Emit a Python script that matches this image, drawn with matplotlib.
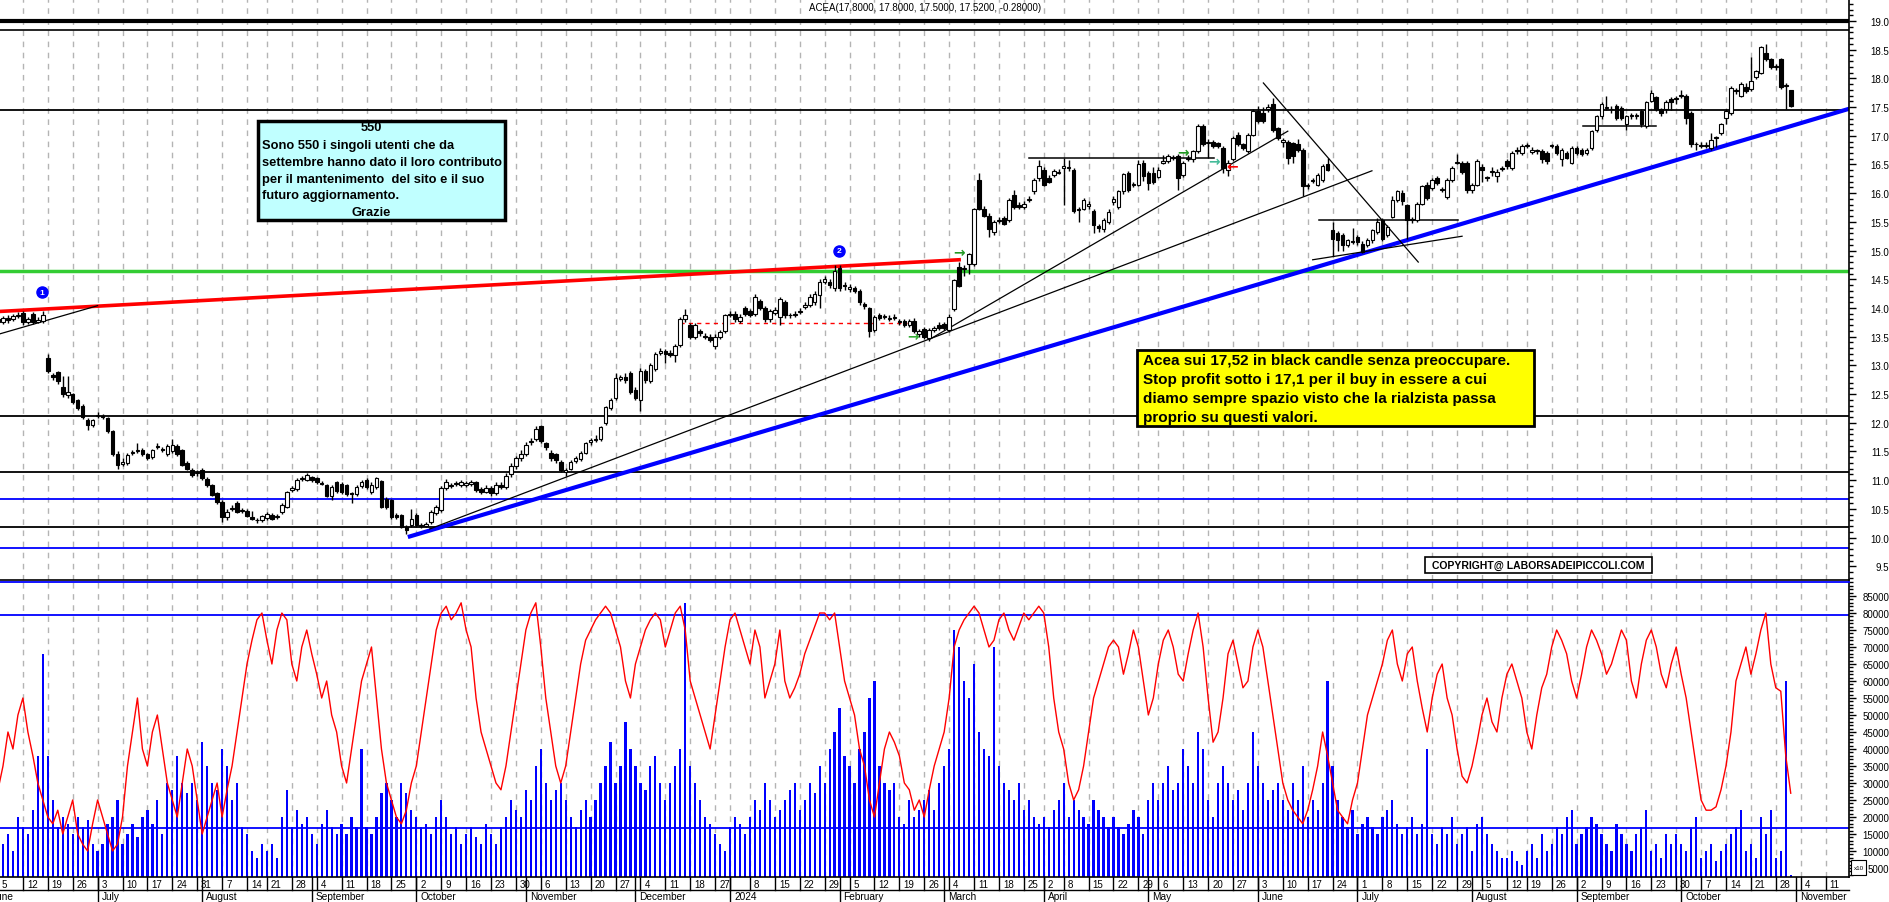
import matplotlib
matplotlib.use("Agg")
import matplotlib.pyplot as plt
import matplotlib.transforms as mtransforms
from matplotlib.patches import Rectangle
from matplotlib.ticker import MultipleLocator, FormatStrFormatter
import numpy as np
import pandas as pd

plt.rcParams['font.family'] = ['Liberation Sans', 'DejaVu Sans']

# calendario borsa (giorni di chiusura)
holidays = pd.to_datetime(['2023-08-15', '2023-12-25', '2023-12-26', '2024-01-01',
                           '2024-03-29', '2024-04-01', '2024-05-01', '2024-08-15'])
cal = pd.bdate_range('2023-06-01', '2024-11-15')
cal = cal[~cal.isin(holidays)]
start = cal.get_loc(pd.Timestamp('2023-06-05'))
pos = np.arange(len(cal)) - start

# ACEA daily OHLC, 5 giugno 2023 -> 31 ottobre 2024
opens = [13.80, 13.76, 13.82, 13.80, 13.86, 13.92, 13.76, 13.90, 13.76, 13.77,
         13.12, 12.84, 12.88, 12.62, 12.49, 12.50, 12.39, 12.30, 12.05, 11.96,
         12.12, 12.12, 12.08, 11.85, 11.46, 11.28, 11.30, 11.47, 11.50, 11.53,
         11.45, 11.40, 11.58, 11.53, 11.46, 11.50, 11.60, 11.52, 11.30, 11.18,
         11.12, 11.18, 11.02, 10.91, 10.78, 10.62, 10.36, 10.50, 10.60, 10.46,
         10.46, 10.35, 10.31, 10.31, 10.34, 10.40, 10.36, 10.44, 10.54, 10.83,
         10.84, 11.02, 11.01, 11.05, 11.03, 10.95, 10.91, 10.73, 10.97, 10.94,
         10.91, 10.78, 10.76, 10.90, 11.00, 10.79, 10.88, 10.98, 10.68, 10.65,
         10.40, 10.39, 10.19, 10.22, 10.40, 10.21, 10.21, 10.27, 10.42, 10.48,
         10.86, 10.91, 10.93, 10.92, 10.92, 10.93, 10.96, 10.84, 10.80, 10.86,
         10.78, 10.92, 10.88, 11.10, 11.25, 11.38, 11.46, 11.66, 11.72, 11.94,
         11.64, 11.48, 11.45, 11.32, 11.15, 11.20, 11.33, 11.37, 11.48, 11.66,
         11.70, 11.72, 12.00, 12.26, 12.44, 12.77, 12.80, 12.86, 12.57, 12.40,
         12.90, 12.73, 12.94, 13.22, 13.25, 13.22, 13.18, 13.36, 13.80, 13.70,
         13.50, 13.60, 13.52, 13.50, 13.33, 13.50, 13.60, 13.88, 13.90, 13.78,
         14.00, 13.95, 13.90, 14.12, 14.00, 13.80, 13.92, 13.85, 14.10, 13.87,
         13.88, 13.93, 14.02, 14.05, 14.10, 14.23, 14.45, 14.45, 14.35, 14.70,
         14.40, 14.33, 14.35, 14.30, 14.07, 14.00, 13.62, 13.88, 13.85, 13.80,
         13.83, 13.77, 13.77, 13.70, 13.78, 13.55, 13.63, 13.48, 13.62, 13.70,
         13.72, 13.62, 13.98, 14.71, 14.68, 14.77, 14.77, 16.23, 15.73, 15.61,
         15.32, 15.52, 15.56, 15.53, 15.97, 15.79, 15.76, 15.88, 16.03, 16.26,
         16.41, 16.27, 16.32, 16.36, 16.44, 16.44, 16.41, 15.72, 15.73, 15.78,
         15.69, 15.42, 15.37, 15.50, 15.84, 15.76, 16.03, 16.35, 16.14, 16.15,
         16.53, 16.35, 16.35, 16.29, 16.53, 16.56, 16.62, 16.65, 16.32, 16.60,
         16.59, 16.73, 17.17, 16.88, 16.90, 16.87, 16.79, 16.41, 16.59, 17.02,
         16.85, 16.73, 17.02, 17.43, 17.40, 17.46, 17.55, 17.13, 16.90, 16.90,
         16.87, 16.85, 16.76, 16.12, 16.21, 16.15, 16.23, 16.50, 15.35, 15.30,
         15.27, 15.10, 15.16, 15.24, 15.12, 15.10, 15.18, 15.32, 15.53, 15.27,
         15.59, 15.88, 16.00, 15.79, 15.53, 15.53, 15.82, 16.15, 16.09, 16.26,
         16.06, 15.94, 16.23, 16.53, 16.53, 16.53, 16.06, 16.15, 16.45, 16.28,
         16.37, 16.30, 16.43, 16.56, 16.44, 16.73, 16.70, 16.82, 16.72, 16.73,
         16.74, 16.70, 16.82, 16.82, 16.59, 16.70, 16.53, 16.79, 16.76, 16.70,
         16.79, 17.10, 17.34, 17.49, 17.46, 17.52, 17.49, 17.20, 17.34, 17.34,
         17.43, 17.17, 17.61, 17.67, 17.46, 17.46, 17.64, 17.64, 17.70, 17.70,
         17.40, 16.86, 16.84, 16.82, 16.79, 16.96, 17.05, 17.31, 17.40, 17.78,
         17.70, 17.85, 17.81, 18.02, 18.10, 18.45, 18.33, 18.20, 18.33, 17.87,
         17.80]
highs = [13.84, 13.86, 13.88, 13.90, 13.93, 13.95, 13.84, 13.93, 13.85, 13.95,
         13.20, 12.86, 12.90, 12.82, 12.82, 12.52, 12.42, 12.32, 12.08, 12.07,
         12.18, 12.15, 12.10, 11.87, 11.50, 11.38, 11.47, 11.53, 11.64, 11.56,
         11.48, 11.55, 11.64, 11.58, 11.63, 11.72, 11.63, 11.55, 11.33, 11.21,
         11.18, 11.21, 11.05, 10.94, 10.80, 10.65, 10.50, 10.56, 10.63, 10.52,
         10.49, 10.47, 10.34, 10.40, 10.44, 10.43, 10.41, 10.60, 10.82, 10.90,
         11.04, 11.07, 11.13, 11.08, 11.06, 10.98, 10.93, 10.91, 10.99, 10.97,
         10.93, 10.80, 10.91, 11.00, 11.03, 10.97, 11.06, 11.00, 10.70, 10.67,
         10.43, 10.41, 10.22, 10.50, 10.43, 10.25, 10.28, 10.48, 10.57, 10.89,
         11.02, 10.95, 10.99, 11.01, 10.99, 11.00, 10.99, 10.88, 10.92, 10.90,
         10.96, 10.97, 11.12, 11.30, 11.42, 11.52, 11.66, 11.74, 11.94, 11.97,
         11.67, 11.52, 11.48, 11.36, 11.22, 11.36, 11.42, 11.51, 11.67, 11.74,
         11.78, 11.95, 12.30, 12.44, 12.86, 12.84, 12.86, 12.90, 12.62, 12.96,
         12.94, 13.04, 13.24, 13.30, 13.28, 13.26, 13.37, 13.84, 13.98, 13.74,
         13.74, 13.63, 13.56, 13.54, 13.54, 13.62, 13.90, 13.95, 13.94, 13.90,
         14.04, 13.98, 14.24, 14.16, 14.04, 13.99, 14.02, 14.19, 14.14, 13.92,
         13.95, 14.00, 14.10, 14.24, 14.30, 14.50, 14.55, 14.50, 14.75, 14.75,
         14.45, 14.42, 14.38, 14.33, 14.10, 14.02, 13.88, 13.92, 13.90, 13.88,
         13.90, 13.80, 13.80, 13.80, 13.82, 13.64, 13.66, 13.65, 13.69, 13.75,
         13.76, 13.90, 14.50, 14.80, 14.75, 14.96, 15.75, 16.35, 15.78, 15.65,
         15.54, 15.58, 15.60, 15.92, 16.05, 15.84, 15.86, 15.95, 16.26, 16.58,
         16.46, 16.32, 16.43, 16.42, 16.62, 16.58, 16.44, 15.76, 15.92, 15.87,
         15.72, 15.46, 15.56, 15.72, 15.95, 16.06, 16.36, 16.38, 16.20, 16.58,
         16.58, 16.38, 16.45, 16.45, 16.66, 16.68, 16.66, 16.69, 16.56, 16.66,
         16.76, 17.20, 17.20, 16.95, 16.93, 16.90, 16.82, 16.58, 17.00, 17.06,
         16.88, 17.05, 17.46, 17.52, 17.50, 17.55, 17.65, 17.16, 16.97, 16.93,
         16.90, 16.95, 16.79, 16.17, 16.26, 16.35, 16.50, 16.62, 15.50, 15.34,
         15.30, 15.21, 15.40, 15.27, 15.16, 15.22, 15.38, 15.56, 15.56, 15.44,
         15.95, 16.06, 16.05, 15.82, 15.58, 15.85, 16.15, 16.19, 16.26, 16.30,
         16.10, 16.26, 16.47, 16.68, 16.56, 16.56, 16.18, 16.60, 16.50, 16.30,
         16.45, 16.42, 16.48, 16.60, 16.73, 16.80, 16.85, 16.88, 16.80, 16.77,
         16.77, 16.73, 16.86, 16.85, 16.79, 16.73, 16.82, 16.82, 16.79, 16.79,
         17.10, 17.36, 17.58, 17.70, 17.52, 17.55, 17.52, 17.37, 17.40, 17.40,
         17.46, 17.60, 17.80, 17.70, 17.49, 17.62, 17.67, 17.70, 17.79, 17.73,
         17.43, 16.90, 16.90, 16.90, 17.05, 17.00, 17.23, 17.46, 17.86, 17.84,
         17.93, 17.92, 18.38, 18.15, 18.57, 18.60, 18.36, 18.25, 18.36, 17.92,
         17.80]
lows = [13.70, 13.72, 13.74, 13.77, 13.82, 13.70, 13.72, 13.72, 13.73, 13.74,
        12.86, 12.74, 12.68, 12.45, 12.44, 12.33, 12.22, 12.07, 11.88, 11.93,
        12.08, 12.06, 11.83, 11.42, 11.20, 11.24, 11.27, 11.44, 11.47, 11.42,
        11.35, 11.37, 11.55, 11.49, 11.43, 11.47, 11.43, 11.24, 11.17, 11.05,
        11.08, 11.00, 10.88, 10.72, 10.58, 10.27, 10.30, 10.46, 10.42, 10.43,
        10.35, 10.30, 10.25, 10.28, 10.31, 10.30, 10.33, 10.41, 10.51, 10.79,
        10.81, 10.99, 10.98, 10.97, 10.94, 10.91, 10.70, 10.66, 10.78, 10.76,
        10.73, 10.60, 10.73, 10.87, 10.85, 10.76, 10.85, 10.51, 10.50, 10.33,
        10.33, 10.16, 10.06, 10.19, 10.19, 10.16, 10.18, 10.24, 10.39, 10.45,
        10.83, 10.86, 10.89, 10.88, 10.88, 10.89, 10.80, 10.76, 10.77, 10.72,
        10.75, 10.84, 10.85, 11.06, 11.20, 11.33, 11.42, 11.62, 11.68, 11.64,
        11.52, 11.34, 11.30, 11.14, 11.08, 11.17, 11.30, 11.34, 11.45, 11.62,
        11.66, 11.69, 11.96, 12.22, 12.40, 12.72, 12.70, 12.50, 12.40, 12.20,
        12.70, 12.70, 12.90, 13.18, 13.05, 13.14, 13.06, 13.32, 13.76, 13.46,
        13.46, 13.52, 13.46, 13.40, 13.28, 13.46, 13.56, 13.84, 13.76, 13.74,
        13.86, 13.84, 13.86, 13.96, 13.76, 13.76, 13.88, 13.70, 13.83, 13.82,
        13.84, 13.89, 13.98, 14.01, 14.06, 14.00, 14.41, 14.34, 14.30, 14.30,
        14.32, 14.28, 14.26, 14.06, 13.98, 13.50, 13.58, 13.79, 13.80, 13.77,
        13.79, 13.70, 13.66, 13.66, 13.56, 13.50, 13.46, 13.42, 13.58, 13.62,
        13.62, 13.58, 13.95, 14.36, 14.55, 14.60, 14.74, 15.70, 15.58, 15.24,
        15.28, 15.48, 15.44, 15.50, 15.73, 15.72, 15.72, 15.85, 15.98, 16.22,
        16.12, 16.17, 16.28, 16.33, 15.80, 16.38, 15.66, 15.50, 15.70, 15.72,
        15.30, 15.32, 15.33, 15.46, 15.80, 15.72, 15.99, 16.02, 16.10, 16.12,
        16.22, 16.05, 16.16, 16.26, 16.50, 16.52, 16.58, 16.05, 16.28, 16.56,
        16.55, 16.70, 16.82, 16.62, 16.79, 16.79, 16.36, 16.30, 16.56, 16.82,
        16.76, 16.70, 16.99, 17.22, 17.22, 17.42, 17.07, 16.93, 16.80, 16.50,
        16.52, 16.72, 15.95, 16.08, 16.18, 16.12, 16.20, 16.38, 14.90, 15.00,
        15.00, 15.06, 15.12, 15.10, 14.95, 15.07, 15.14, 15.29, 15.17, 15.24,
        15.56, 15.85, 15.79, 15.20, 15.48, 15.50, 15.79, 15.88, 16.06, 16.15,
        16.02, 15.90, 16.20, 16.50, 16.34, 16.00, 16.00, 16.12, 16.20, 16.22,
        16.30, 16.20, 16.38, 16.42, 16.40, 16.68, 16.66, 16.78, 16.68, 16.69,
        16.52, 16.50, 16.78, 16.66, 16.48, 16.59, 16.50, 16.66, 16.64, 16.66,
        16.76, 17.06, 17.30, 17.45, 17.40, 17.28, 17.28, 17.10, 17.30, 17.30,
        17.15, 17.14, 17.58, 17.43, 17.34, 17.40, 17.45, 17.55, 17.65, 17.20,
        16.80, 16.75, 16.78, 16.79, 16.76, 16.80, 17.02, 17.20, 17.37, 17.72,
        17.67, 17.74, 17.78, 17.99, 18.07, 18.30, 18.17, 18.15, 17.82, 17.47,
        17.50]
closes = [13.76, 13.82, 13.79, 13.86, 13.88, 13.75, 13.80, 13.76, 13.79, 13.88,
          12.90, 12.80, 12.72, 12.50, 12.53, 12.37, 12.26, 12.10, 11.96, 12.04,
          12.14, 12.10, 11.86, 11.45, 11.27, 11.32, 11.44, 11.49, 11.53, 11.45,
          11.38, 11.52, 11.60, 11.52, 11.60, 11.62, 11.46, 11.27, 11.20, 11.09,
          11.14, 11.03, 10.91, 10.75, 10.62, 10.36, 10.45, 10.52, 10.45, 10.47,
          10.38, 10.33, 10.30, 10.37, 10.41, 10.33, 10.37, 10.57, 10.79, 10.86,
          11.00, 11.03, 11.09, 11.00, 10.97, 10.94, 10.73, 10.88, 10.81, 10.79,
          10.76, 10.76, 10.88, 10.97, 10.88, 10.91, 11.03, 10.54, 10.54, 10.36,
          10.36, 10.19, 10.13, 10.33, 10.22, 10.20, 10.24, 10.45, 10.54, 10.86,
          10.97, 10.90, 10.94, 10.97, 10.95, 10.96, 10.83, 10.80, 10.86, 10.78,
          10.92, 10.88, 11.08, 11.25, 11.38, 11.46, 11.62, 11.68, 11.90, 11.68,
          11.57, 11.38, 11.35, 11.18, 11.18, 11.32, 11.38, 11.47, 11.64, 11.70,
          11.72, 11.92, 12.27, 12.40, 12.78, 12.79, 12.74, 12.53, 12.44, 12.90,
          12.75, 13.00, 13.20, 13.25, 13.20, 13.18, 13.33, 13.80, 13.87, 13.50,
          13.70, 13.56, 13.50, 13.45, 13.50, 13.58, 13.87, 13.90, 13.80, 13.85,
          13.90, 13.88, 14.20, 14.00, 13.80, 13.95, 13.97, 14.15, 13.87, 13.87,
          13.90, 13.95, 14.05, 14.20, 14.25, 14.45, 14.50, 14.40, 14.65, 14.35,
          14.38, 14.37, 14.30, 14.10, 14.03, 13.60, 13.85, 13.83, 13.86, 13.83,
          13.85, 13.76, 13.70, 13.77, 13.60, 13.60, 13.50, 13.62, 13.65, 13.65,
          13.65, 13.85, 14.48, 14.39, 14.70, 14.94, 15.73, 15.73, 15.61, 15.38,
          15.50, 15.53, 15.47, 15.88, 15.76, 15.76, 15.82, 15.90, 16.23, 16.47,
          16.15, 16.20, 16.38, 16.37, 16.47, 16.45, 15.69, 15.71, 15.88, 15.82,
          15.44, 15.40, 15.53, 15.68, 15.90, 16.03, 16.33, 16.06, 16.15, 16.50,
          16.30, 16.18, 16.20, 16.41, 16.56, 16.64, 16.63, 16.26, 16.53, 16.62,
          16.73, 17.17, 16.85, 16.90, 16.82, 16.82, 16.44, 16.53, 16.96, 16.85,
          16.79, 17.02, 17.43, 17.25, 17.25, 17.50, 17.10, 16.96, 16.93, 16.61,
          16.64, 16.76, 16.12, 16.12, 16.23, 16.32, 16.47, 16.41, 15.20, 15.18,
          15.10, 15.18, 15.15, 15.15, 14.98, 15.18, 15.35, 15.50, 15.20, 15.41,
          15.88, 16.03, 15.86, 15.53, 15.53, 15.82, 16.12, 15.91, 16.23, 16.18,
          16.06, 16.23, 16.44, 16.53, 16.37, 16.06, 16.15, 16.56, 16.40, 16.26,
          16.37, 16.37, 16.43, 16.47, 16.70, 16.73, 16.82, 16.82, 16.75, 16.73,
          16.59, 16.56, 16.82, 16.70, 16.76, 16.62, 16.79, 16.70, 16.68, 16.76,
          17.08, 17.34, 17.55, 17.49, 17.46, 17.31, 17.31, 17.34, 17.34, 17.34,
          17.20, 17.58, 17.75, 17.46, 17.40, 17.58, 17.58, 17.64, 17.70, 17.31,
          16.85, 16.85, 16.83, 16.82, 16.93, 16.96, 17.20, 17.43, 17.84, 17.78,
          17.90, 17.78, 17.96, 18.13, 18.55, 18.33, 18.20, 18.20, 17.85, 17.87,
          17.52]

# volumi (scala x10) e oscillatore tracciato sulla stessa scala
volume = [18000, 12000, 15000, 10000, 20000, 17000, 15000, 22000, 38000, 68000,
          38000, 25000, 17000, 20000, 18000, 15000, 20000, 17000, 19000, 12000,
          10000, 12000, 18000, 20000, 25000, 12000, 15000, 18000, 14000, 20000,
          22000, 18000, 25000, 15000, 30000, 28000, 38000, 30000, 27000, 30000,
          25000, 42000, 35000, 30000, 28000, 40000, 35000, 25000, 30000, 17000,
          15000, 10000, 8000, 12000, 10000, 12000, 8000, 20000, 28000, 17000,
          22000, 18000, 20000, 15000, 12000, 18000, 22000, 17000, 15000, 18000,
          15000, 20000, 17000, 40000, 17000, 15000, 20000, 27000, 30000, 25000,
          20000, 30000, 27000, 22000, 20000, 17000, 18000, 15000, 20000, 25000,
          20000, 15000, 17000, 12000, 15000, 17000, 14000, 12000, 18000, 15000,
          12000, 17000, 20000, 25000, 22000, 20000, 28000, 25000, 35000, 40000,
          30000, 25000, 28000, 30000, 25000, 20000, 17000, 22000, 25000, 20000,
          25000, 30000, 35000, 42000, 30000, 35000, 48000, 40000, 35000, 30000,
          28000, 35000, 38000, 30000, 25000, 30000, 35000, 40000, 83000, 35000,
          30000, 25000, 20000, 18000, 15000, 12000, 10000, 17000, 20000, 18000,
          15000, 20000, 25000, 22000, 30000, 25000, 20000, 22000, 25000, 28000,
          30000, 22000, 25000, 30000, 27000, 35000, 30000, 40000, 45000, 52000,
          38000, 35000, 30000, 40000, 45000, 55000, 60000, 35000, 30000, 28000,
          30000, 20000, 18000, 25000, 20000, 22000, 25000, 28000, 22000, 30000,
          35000, 40000, 75000, 70000, 60000, 55000, 65000, 45000, 40000, 38000,
          70000, 35000, 30000, 28000, 25000, 30000, 22000, 25000, 20000, 18000,
          20000, 17000, 22000, 25000, 30000, 20000, 25000, 22000, 20000, 18000,
          25000, 22000, 20000, 17000, 20000, 17000, 15000, 18000, 22000, 20000,
          15000, 25000, 30000, 25000, 30000, 35000, 28000, 30000, 40000, 35000,
          30000, 45000, 40000, 25000, 20000, 30000, 35000, 30000, 25000, 28000,
          22000, 30000, 45000, 35000, 30000, 25000, 28000, 30000, 25000, 22000,
          30000, 25000, 35000, 20000, 25000, 22000, 30000, 60000, 35000, 25000,
          20000, 17000, 22000, 15000, 18000, 20000, 17000, 15000, 20000, 22000,
          25000, 18000, 15000, 17000, 20000, 15000, 18000, 40000, 15000, 12000,
          17000, 15000, 20000, 12000, 15000, 17000, 10000, 18000, 20000, 15000,
          12000, 10000, 8000, 8000, 10000, 7000, 6000, 10000, 12000, 8000,
          15000, 10000, 12000, 17000, 15000, 20000, 22000, 12000, 15000, 17000,
          20000, 18000, 15000, 12000, 10000, 18000, 15000, 12000, 10000, 15000,
          17000, 22000, 10000, 12000, 8000, 15000, 12000, 15000, 12000, 10000,
          17000, 20000, 8000, 10000, 12000, 7000, 10000, 12000, 15000, 17000,
          22000, 10000, 12000, 8000, 20000, 15000, 22000, 8000, 10000, 60000,
          3000]
stoch = [28000, 35000, 45000, 40000, 50000, 55000, 45000, 38000, 30000, 25000,
         20000, 18000, 22000, 15000, 20000, 25000, 15000, 12000, 10000, 18000,
         25000, 20000, 15000, 10000, 12000, 20000, 35000, 45000, 55000, 40000,
         35000, 45000, 50000, 40000, 30000, 25000, 20000, 30000, 40000, 35000,
         25000, 15000, 20000, 25000, 30000, 20000, 28000, 35000, 45000, 55000,
         65000, 72000, 78000, 80000, 72000, 65000, 75000, 80000, 78000, 65000,
         60000, 70000, 75000, 68000, 62000, 55000, 60000, 50000, 45000, 35000,
         30000, 40000, 50000, 60000, 65000, 70000, 55000, 40000, 30000, 25000,
         20000, 18000, 22000, 30000, 35000, 45000, 55000, 65000, 75000, 80000,
         82000, 78000, 80000, 83000, 75000, 70000, 55000, 45000, 40000, 35000,
         30000, 28000, 35000, 45000, 55000, 65000, 75000, 80000, 83000, 70000,
         55000, 45000, 35000, 30000, 35000, 45000, 55000, 65000, 72000, 75000,
         78000, 80000, 82000, 80000, 75000, 70000, 60000, 55000, 65000, 70000,
         75000, 78000, 80000, 78000, 70000, 75000, 80000, 82000, 75000, 60000,
         55000, 50000, 45000, 40000, 50000, 60000, 70000, 78000, 80000, 75000,
         70000, 65000, 75000, 70000, 55000, 60000, 65000, 75000, 60000, 55000,
         58000, 62000, 68000, 72000, 76000, 80000, 80000, 78000, 80000, 70000,
         60000, 55000, 50000, 40000, 35000, 25000, 20000, 30000, 40000, 45000,
         42000, 38000, 30000, 28000, 22000, 25000, 20000, 28000, 35000, 40000,
         45000, 55000, 70000, 75000, 78000, 80000, 82000, 80000, 75000, 70000,
         72000, 78000, 80000, 75000, 72000, 76000, 80000, 78000, 80000, 82000,
         80000, 70000, 55000, 45000, 40000, 30000, 25000, 28000, 35000, 45000,
         55000, 60000, 65000, 70000, 72000, 70000, 62000, 68000, 75000, 70000,
         60000, 50000, 55000, 65000, 72000, 75000, 70000, 62000, 60000, 68000,
         75000, 80000, 70000, 55000, 42000, 45000, 55000, 68000, 72000, 65000,
         58000, 60000, 70000, 75000, 70000, 60000, 50000, 40000, 30000, 25000,
         22000, 20000, 18000, 22000, 28000, 35000, 45000, 38000, 30000, 22000,
         20000, 18000, 25000, 30000, 40000, 50000, 55000, 60000, 65000, 72000,
         75000, 65000, 60000, 68000, 70000, 60000, 52000, 45000, 55000, 62000,
         65000, 55000, 50000, 40000, 32000, 30000, 35000, 42000, 50000, 55000,
         48000, 45000, 55000, 62000, 65000, 60000, 55000, 45000, 40000, 50000,
         58000, 62000, 70000, 75000, 72000, 68000, 60000, 55000, 62000, 70000,
         75000, 72000, 68000, 62000, 65000, 70000, 75000, 72000, 60000, 55000,
         65000, 72000, 75000, 70000, 62000, 58000, 65000, 70000, 62000, 55000,
         45000, 35000, 25000, 22000, 22000, 23000, 28000, 35000, 45000, 60000,
         65000, 70000, 62000, 68000, 75000, 80000, 65000, 58000, 57000, 38000,
         27000]

# linee disegnate sul grafico: (x0, y0, x1, y1) in giorni / prezzo
red_line = [0.4, 13.94, 193.0, 14.84]
blue_line = [82.7, 10.02, 371.7, 17.47]
thin_lines = [
    [0.4, 13.55, 20.0, 14.04],
    [86.7, 10.15, 275.9, 16.39],
    [187.0, 13.45, 259.0, 17.08],
    [254.1, 17.92, 285.2, 14.80],
    [264.0, 14.84, 294.0, 15.25],
]
short_levels = [[207.1, 244.1, 16.61], [265.2, 293.1, 15.54], [318.3, 333.0, 17.17]]
red_dashed = [137.0, 182.5, 13.73]
black_levels = [17.45, 12.11, 11.15, 10.19]
blue_levels = [10.67, 9.81]
green_level = 14.64
vol_levels = [79500, 16800]

W, H = 1890, 903
fig = plt.figure(figsize=(W / 100, H / 100), dpi=100)
fig.patch.set_facecolor('white')

ax = fig.add_axes([0, 1 - 581 / H, 1849 / W, 581 / H])
axv = fig.add_axes([0, 1 - 878 / H, 1849 / W, 295 / H])

xmin, xmax = 0.40, 371.7
n = len(closes)
idx = np.arange(n)

week_first = []
for k in range(len(cal)):
    if k == 0 or cal[k].isocalendar()[1] != cal[k - 1].isocalendar()[1]:
        week_first.append(k)
week_pos = [pos[k] for k in week_first if xmin - 8 < pos[k] < xmax]

for a in (ax, axv):
    a.set_xlim(xmin, xmax)
    for p in week_pos:
        a.axvline(p, color='#b4b4b4', lw=1, ls=(0, (4, 4)), zorder=0)
    a.spines['left'].set_visible(False)
    a.spines['top'].set_visible(False)
    a.spines['right'].set_linewidth(1.2)
    a.spines['bottom'].set_linewidth(1.2)
    a.set_xticks([])
    a.yaxis.tick_right()
    a.tick_params(axis='y', which='major', length=5, width=1, labelsize=7, pad=24)
    a.tick_params(axis='y', which='minor', length=3, width=1)

# pannello prezzi
ax.set_ylim(9.261, 19.383)
ax.yaxis.set_major_locator(MultipleLocator(0.5))
ax.yaxis.set_minor_locator(MultipleLocator(0.1))
ax.yaxis.set_major_formatter(FormatStrFormatter('%.1f'))
for lbl in ax.get_yticklabels():
    lbl.set_horizontalalignment('right')

ax.axhline(19.0, color='black', lw=3, zorder=1)
ax.axhline(18.84, color='black', lw=1.2, zorder=1)
for lv in black_levels:
    ax.axhline(lv, color='black', lw=1.3, zorder=1)
for lv in blue_levels:
    ax.axhline(lv, color='#0000ff', lw=1.3, zorder=1)
ax.axhline(green_level, color='#33cc33', lw=2.5, zorder=1)

ax.plot(red_line[0::2], red_line[1::2], color='#ff0000', lw=2.6, zorder=2)
ax.plot(blue_line[0::2], blue_line[1::2], color='#0000ff', lw=3, zorder=2)
for ln in thin_lines:
    ax.plot(ln[0::2], ln[1::2], color='black', lw=0.9, zorder=2)
for x0, x1, lv in short_levels:
    ax.plot([x0, x1], [lv, lv], color='black', lw=1.1, zorder=2)
ax.plot(red_dashed[:2], [red_dashed[2]] * 2, color='#ff0000', lw=1, ls=(0, (3, 3)), zorder=2)

o = np.array(opens)
c = np.array(closes)
hi = np.array(highs)
lo = np.array(lows)
up = c >= o
ax.vlines(idx, lo, hi, color='black', lw=1, zorder=3)
body_lo = np.minimum(o, c)
body_h = np.maximum(np.abs(c - o), 0.015)
ax.bar(idx, body_h, bottom=body_lo, width=0.72,
       color=np.where(up, 'white', 'black'), edgecolor='black', lw=0.8, zorder=4)

# segnali
for num, xi, yv in [('1', 8.8, 14.27), ('2', 168.9, 15.0)]:
    ax.plot(xi, yv, 'o', color='#0000ff', markersize=8, zorder=5)
    ax.text(xi, yv, num, color='white', fontsize=6, fontweight='bold',
            ha='center', va='center', zorder=6)
arrows = [(183.8, 13.51, '→', '#33aa33'), (193.0, 14.97, '→', '#229922'),
          (238.0, 16.71, '→', '#229922'), (244.2, 16.56, '→', '#44bb99'),
          (247.8, 16.48, '←', '#ff0000')]
for xi, yv, s, col in arrows:
    ax.text(xi, yv, s, color=col, fontsize=10, fontweight='bold', family='DejaVu Sans',
            ha='center', va='center', zorder=6)


def fx(px):
    return px / W


def fy(py):
    return 1 - py / H


fig.text(fx(925), fy(8), 'ACEA(17.8000, 17.8000, 17.5000, 17.5200, -0.28000)', fontsize=7,
         ha='center', va='center')

fig.patches.append(Rectangle((fx(258), fy(221)), fx(505) - fx(258), fy(122) - fy(221),
                             transform=fig.transFigure, facecolor='#c0ffff',
                             edgecolor='black', lw=2.5, zorder=10))
cyan_lines = [('550', 'c', 128), ('Sono 550 i singoli utenti che da', 'l', 146),
              ('settembre hanno dato il loro contributo', 'l', 163),
              ('per il mantenimento  del sito e il suo', 'l', 180),
              ('futuro aggiornamento.', 'l', 196), ('Grazie', 'c', 213)]
for s, al, py in cyan_lines:
    fig.text(fx(371) if al == 'c' else fx(262), fy(py), s, fontsize=9.3, fontweight='bold',
             ha='center' if al == 'c' else 'left', va='center', zorder=11)

fig.patches.append(Rectangle((fx(1137), fy(427)), fx(1534) - fx(1137), fy(351) - fy(427),
                             transform=fig.transFigure, facecolor='#ffff00',
                             edgecolor='black', lw=2, zorder=10))
yellow_lines = ['Acea sui 17,52 in black candle senza preoccupare.',
                'Stop profit sotto i 17,1 per il buy in essere a cui',
                'diamo sempre spazio visto che la rialzista passa',
                'proprio su questi valori.']
for k, s in enumerate(yellow_lines):
    fig.text(fx(1143), fy(361 + k * 19), s, fontsize=11, fontweight='bold',
             ha='left', va='center', zorder=11)

fig.patches.append(Rectangle((fx(1425), fy(574)), fx(1652) - fx(1425), fy(558) - fy(574),
                             transform=fig.transFigure, facecolor='white',
                             edgecolor='black', lw=1.2, zorder=10))
fig.text(fx(1538), fy(566), 'COPYRIGHT@ LABORSADEIPICCOLI.COM', fontsize=7.5,
         fontweight='bold', ha='center', va='center', zorder=11)

# pannello volumi
axv.set_ylim(2353, 89118)
axv.spines['top'].set_visible(True)
axv.spines['top'].set_color('#0000ff')
axv.spines['top'].set_linewidth(1.3)
axv.yaxis.set_major_locator(MultipleLocator(5000))
axv.yaxis.set_minor_locator(MultipleLocator(1000))
axv.yaxis.set_major_formatter(FormatStrFormatter('%d'))
axv.set_yticks([v for v in range(5000, 90000, 5000)])
for lbl in axv.get_yticklabels():
    lbl.set_horizontalalignment('right')

axv.bar(idx, volume, width=0.45, color='#0000ff', zorder=2)
axv.plot(idx, stoch, color='#ff0000', lw=1, zorder=3)
for lv in vol_levels:
    axv.axhline(lv, color='#0000ff', lw=1.3, zorder=1)

fig.patches.append(Rectangle((fx(1851), fy(876)), fx(1866) - fx(1851), fy(861) - fy(876),
                             transform=fig.transFigure, facecolor='white',
                             edgecolor='black', lw=0.8, zorder=10))
fig.text(fx(1858.5), fy(869), 'x10', fontsize=4.5, ha='center', va='center', zorder=11)

# asse delle date
tr = mtransforms.blended_transform_factory(axv.transData, fig.transFigure)
fig.lines.append(plt.Line2D([0, fx(1849)], [fy(891), fy(891)], transform=fig.transFigure,
                            color='black', lw=1))
for k in week_first:
    p = pos[k]
    if not (-1 <= p < xmax - 2):
        continue
    axv.plot([p, p], [fy(878), fy(891)], transform=tr, color='black', lw=1, clip_on=False)
    if cal[k] == pd.Timestamp('2024-01-02'):
        continue
    axv.text(p + 0.8, fy(885), str(cal[k].day), transform=tr, fontsize=7,
             ha='left', va='center', clip_on=False)

month_names = ['2024', 'February', 'March', 'April', 'May', 'June', 'July', 'August',
               'September', 'October', 'November', 'December']
for k in range(len(cal)):
    if k == 0 or cal[k].month != cal[k - 1].month:
        p = pos[k]
        if p > xmax:
            continue
        axv.plot([p, p], [fy(878), fy(903)], transform=tr, color='black', lw=1, clip_on=False)
        name = month_names[cal[k].month - 1]
        axv.text(p + 0.8, fy(897.5), name, transform=tr, fontsize=7.3,
                 ha='left', va='center', clip_on=False)

fig.savefig('out.png', dpi=100, facecolor='white')
